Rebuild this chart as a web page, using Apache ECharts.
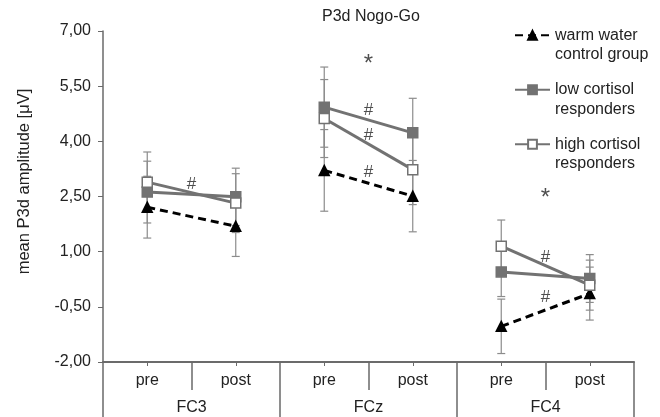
<!DOCTYPE html>
<html>
<head>
<meta charset="utf-8">
<script src="https://cdn.jsdelivr.net/npm/echarts@6/dist/echarts.min.js"></script>
<style>
  html, body { margin: 0; padding: 0; background: #fff; }
  #chart { width: 660px; height: 417px; }
</style>
</head>
<body>
<div id="chart"></div>
<script>
const groups = ['FC3', 'FCz', 'FC4'];
const phases = ['pre', 'post', 'pre', 'post', 'pre', 'post'];

const warmMean = [2.21, 1.69, 3.21, 2.51, -1.03, -0.14];
const warmErr = [0.84, 0.82, 1.11, 0.97, 0.74, 0.72];
const lowMean = [2.62, 2.49, 4.93, 4.23, 0.45, 0.27];
const lowErr = [0.84, 0.78, 1.09, 0.94, 0.67, 0.65];
const highMean = [2.89, 2.32, 4.62, 3.23, 1.15, 0.09];
const highErr = [0.82, 0.8, 1.06, 0.95, 0.71, 0.68];

// significance marks, x in category units (0.5 = between pre and post)
const markX = [0.5, 2.5, 2.5, 2.5, 4.5, 4.5, 2.5, 4.5];
const markY = [2.84, 4.84, 4.16, 3.16, 0.85, -0.24, 6.1, 2.46];
const markText = ['#', '#', '#', '#', '#', '#', '*', '*'];

const yTicks = { min: -2, max: 7, step: 1.5 };

// leading empty line keeps the icon level with the first text line
const legendText = {
  'warm water control group': '\nwarm water\ncontrol group',
  'low cortisol responders': '\nlow cortisol\nresponders',
  'high cortisol responders': '\nhigh cortisol\nresponders'
};

const font = 'Liberation Sans, Arial, sans-serif';
const gray = '#727272';
const axisColor = '#6a6a6a';

const seriesDefs = [
  { name: 'warm water control group', mean: warmMean, err: warmErr,
    symbol: 'triangle', size: 10, color: '#000', fill: '#000', dash: [8, 5] },
  { name: 'low cortisol responders', mean: lowMean, err: lowErr,
    symbol: 'rect', size: 10, color: gray, fill: gray, dash: 'solid' },
  { name: 'high cortisol responders', mean: highMean, err: highErr,
    symbol: 'rect', size: 10, color: gray, fill: '#fff', dash: 'solid' }
];

function errorBars(def) {
  return {
    type: 'custom',
    xAxisIndex: 0,
    yAxisIndex: 0,
    silent: true,
    z: 1,
    data: def.mean.map((m, i) => [i, m - def.err[i], m + def.err[i]]),
    renderItem: function (params, api) {
      const x = api.value(0);
      const lo = api.coord([x, api.value(1)]);
      const hi = api.coord([x, api.value(2)]);
      const w = 4;
      const st = { stroke: '#8c8c8c', lineWidth: 1.2 };
      return {
        type: 'group',
        children: [
          { type: 'line', shape: { x1: lo[0], y1: lo[1], x2: hi[0], y2: hi[1] }, style: st },
          { type: 'line', shape: { x1: lo[0] - w, y1: lo[1], x2: lo[0] + w, y2: lo[1] }, style: st },
          { type: 'line', shape: { x1: hi[0] - w, y1: hi[1], x2: hi[0] + w, y2: hi[1] }, style: st }
        ]
      };
    }
  };
}

const series = [];
seriesDefs.forEach(def => series.push(errorBars(def)));
seriesDefs.forEach(def => {
  groups.forEach((g, gi) => {
    series.push({
      type: 'line',
      name: def.name,
      xAxisIndex: 0,
      yAxisIndex: 0,
      z: 3,
      symbol: def.symbol,
      symbolSize: def.size,
      showSymbol: true,
      connectNulls: false,
      data: def.mean.map((v, i) => Math.floor(i / 2) === gi ? v : '-'),
      lineStyle: { color: def.color, width: 3, type: def.dash },
      itemStyle: { color: def.fill, borderColor: def.color, borderWidth: 1.5 },
      emphasis: { disabled: true }
    });
  });
});

series.push({
  type: 'scatter',
  xAxisIndex: 3,
  yAxisIndex: 0,
  symbolSize: 0,
  itemStyle: { color: 'rgba(0,0,0,0)' },
  silent: true,
  z: 5,
  data: markX.map((x, i) => ({
    value: [x, markY[i]],
    label: { fontSize: markText[i] === '*' ? 24 : 17 }
  })),
  label: {
    show: true,
    position: 'inside',
    formatter: p => markText[p.dataIndex],
    fontFamily: font,
    color: '#222'
  }
});

const chart = echarts.init(document.getElementById('chart'));
chart.setOption({
  animation: false,
  backgroundColor: '#fff',
  title: {
    text: 'P3d Nogo-Go',
    left: 317,
    top: 4,
    textStyle: { fontSize: 16, fontWeight: 'normal', fontFamily: font, color: '#222' }
  },
  legend: {
    orient: 'vertical',
    left: 514,
    top: 6,
    padding: 0,
    itemWidth: 35,
    itemHeight: 11,
    itemGap: -4,
    data: seriesDefs.map(d => d.name),
    formatter: n => legendText[n],
    textStyle: { fontSize: 16, fontFamily: font, color: '#222', lineHeight: 19.5 }
  },
  grid: { left: 103, right: 26, top: 31, bottom: 55 },
  xAxis: [
    {
      type: 'category',
      data: phases,
      position: 'bottom',
      axisLine: { onZero: false, lineStyle: { color: axisColor, width: 1.5 } },
      axisTick: { show: true, alignWithLabel: true, interval: 0, length: 4, lineStyle: { color: axisColor } },
      axisLabel: { interval: 0, fontSize: 16, fontFamily: font, color: '#222', margin: 11 }
    },
    {
      type: 'category',
      data: phases,
      position: 'bottom',
      axisLine: { show: true, onZero: false, lineStyle: { color: axisColor, width: 1.5 } },
      axisTick: { show: true, interval: 0, length: 28, lineStyle: { color: axisColor, width: 1.5 } },
      axisLabel: { show: false }
    },
    {
      type: 'category',
      data: groups,
      position: 'bottom',
      axisLine: { show: true, onZero: false, lineStyle: { color: axisColor, width: 1.5 } },
      axisTick: { show: true, interval: 0, length: 60, lineStyle: { color: axisColor, width: 1.5 } },
      axisLabel: { interval: 0, fontSize: 16, fontFamily: font, color: '#222', margin: 38 }
    },
    { type: 'value', min: -0.5, max: 5.5, show: false, axisLine: { onZero: false } }
  ],
  yAxis: {
    type: 'value',
    min: yTicks.min,
    max: yTicks.max,
    interval: yTicks.step,
    name: 'mean P3d amplitude [μV]',
    nameLocation: 'middle',
    nameGap: 70,
    nameTextStyle: { fontSize: 16.5, fontFamily: font, color: '#222', padding: [0, 0, 0, 30] },
    axisLine: { show: true, onZero: false, lineStyle: { color: axisColor, width: 1.5 } },
    axisTick: { show: true, length: 5, lineStyle: { color: axisColor } },
    splitLine: { show: false },
    axisLabel: {
      fontSize: 16, fontFamily: font, color: '#222', margin: 12,
      formatter: v => v.toFixed(2).replace('.', ',')
    }
  },
  series: series
});
</script>
</body>
</html>
